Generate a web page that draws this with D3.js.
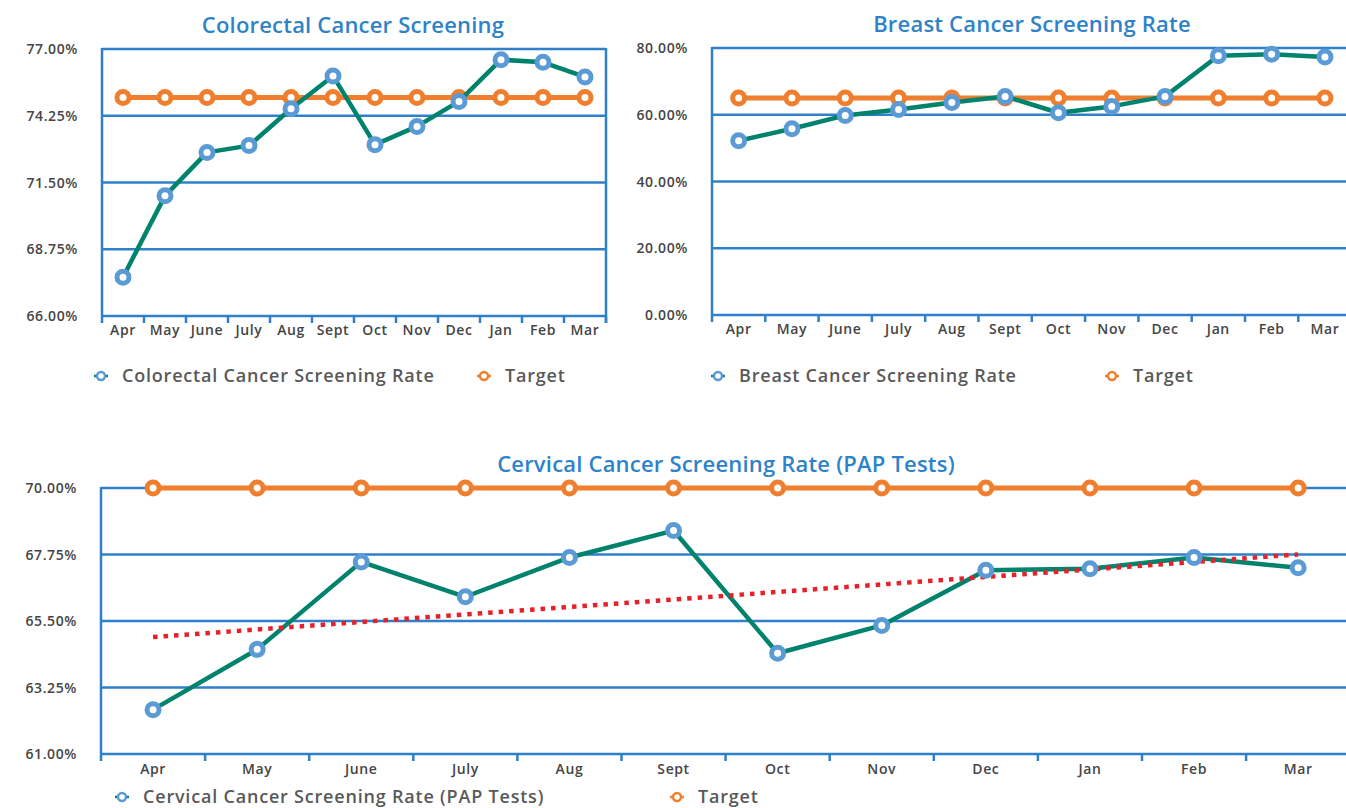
<!DOCTYPE html>
<html>
<head>
<meta charset="utf-8">
<script src="https://cdn.jsdelivr.net/npm/d3@7"></script>
<style>
  body { margin: 0; background: #fff; }
  svg { display: block; font-family: "Open Sans", sans-serif; }
  .tick-label { fill: #454545; font-size: 14px; font-weight: 600; letter-spacing: 0.6px; }
  .chart-title { fill: #2e83c8; font-size: 22px; font-weight: 600; letter-spacing: 0.2px; }
  .legend-text { fill: #595959; font-size: 18px; font-weight: 600; letter-spacing: 0.8px; }
</style>
</head>
<body>
<div id="chart"></div>
<script>
const months = ["Apr", "May", "June", "July", "Aug", "Sept", "Oct", "Nov", "Dec", "Jan", "Feb", "Mar"];

const colorectalRate = [67.60, 70.95, 72.74, 73.02, 74.54, 75.89, 73.06, 73.81, 74.84, 76.56, 76.45, 75.85];
const colorectalTarget = [75, 75, 75, 75, 75, 75, 75, 75, 75, 75, 75, 75];
const colorectalTicks = [66, 68.75, 71.5, 74.25, 77];

const breastRate = [52.2, 55.8, 59.8, 61.6, 63.7, 65.5, 60.6, 62.5, 65.5, 77.7, 78.1, 77.3];
const breastTarget = [65, 65, 65, 65, 65, 65, 65, 65, 65, 65, 65, 65];
const breastTicks = [0, 20, 40, 60, 80];

const cervicalRate = [62.50, 64.54, 67.50, 66.32, 67.65, 68.56, 64.41, 65.35, 67.22, 67.27, 67.65, 67.30];
const cervicalTarget = [70, 70, 70, 70, 70, 70, 70, 70, 70, 70, 70, 70];
const cervicalTicks = [61, 63.25, 65.5, 67.75, 70];

const colors = {
    grid: "#2f80c8",
    rate: "#00836c",
    marker: "#5b9bd5",
    target: "#ef7f2f",
    trend: "#e8202a"
};

const svg = d3.select("#chart").append("svg")
    .attr("width", 1346)
    .attr("height", 808);

drawChart({
    left: 102, top: 49, bandWidth: 42, height: 267,
    ticks: colorectalTicks, rate: colorectalRate, target: colorectalTarget,
    title: "Colorectal Cancer Screening", titleX: 353, titleY: 33,
    rightBorder: true,
    legendY: 376, legendRateX: 101, legendTargetX: 484,
    rateName: "Colorectal Cancer Screening Rate"
});

drawChart({
    left: 712, top: 48, bandWidth: 53.3, height: 267,
    ticks: breastTicks, rate: breastRate, target: breastTarget,
    title: "Breast Cancer Screening Rate", titleX: 1032, titleY: 32,
    legendY: 376, legendRateX: 718, legendTargetX: 1112,
    rateName: "Breast Cancer Screening Rate"
});

drawChart({
    left: 101, top: 488, bandWidth: 104.1, height: 266,
    ticks: cervicalTicks, rate: cervicalRate, target: cervicalTarget,
    title: "Cervical Cancer Screening Rate (PAP Tests)", titleX: 726, titleY: 472,
    trend: true, tickSpacing: 20,
    legendY: 797, legendRateX: 122, legendTargetX: 677,
    rateName: "Cervical Cancer Screening Rate (PAP Tests)"
});

function drawChart(cfg){
    const g = svg.append("g");
    const width = cfg.bandWidth * months.length;

    const x = d3.scaleBand()
        .domain(months)
        .range([cfg.left, cfg.left + width]);

    const y = d3.scaleLinear()
        .domain([d3.min(cfg.ticks), d3.max(cfg.ticks)])
        .range([cfg.top + cfg.height, cfg.top]);

    // horizontal gridlines
    g.append("g").selectAll("line")
        .data(cfg.ticks)
        .enter().append("line")
            .attr("x1", cfg.left)
            .attr("x2", cfg.left + width)
            .attr("y1", d => y(d))
            .attr("y2", d => y(d))
            .attr("stroke", colors.grid)
            .attr("stroke-width", 2.5);

    // y tick labels
    g.append("g").selectAll("text")
        .data(cfg.ticks)
        .enter().append("text")
            .classed("tick-label", true)
            .attr("x", cfg.left - 24)
            .attr("y", d => y(d) + 5)
            .attr("text-anchor", "end")
            .text(d => d.toFixed(2) + "%");

    // left axis and band ticks
    const bottom = y(d3.min(cfg.ticks));
    g.append("line")
        .attr("x1", cfg.left).attr("x2", cfg.left)
        .attr("y1", cfg.top - 1).attr("y2", bottom + 7)
        .attr("stroke", colors.grid).attr("stroke-width", 2.5);

    const boundaries = months.map(m => x(m) + x.bandwidth());
    g.append("g").selectAll("line")
        .data(boundaries)
        .enter().append("line")
            .attr("x1", d => d).attr("x2", d => d)
            .attr("y1", bottom).attr("y2", bottom + 7)
            .attr("stroke", colors.grid).attr("stroke-width", 2.5);

    if(cfg.rightBorder){
        g.append("line")
            .attr("x1", cfg.left + width).attr("x2", cfg.left + width)
            .attr("y1", cfg.top - 1).attr("y2", bottom + 7)
            .attr("stroke", colors.grid).attr("stroke-width", 2.5);
    }

    // x labels
    g.append("g").selectAll("text")
        .data(months)
        .enter().append("text")
            .classed("tick-label", true)
            .attr("x", d => x(d) + x.bandwidth() / 2)
            .attr("y", bottom + (cfg.tickSpacing || 19))
            .attr("text-anchor", "middle")
            .text(d => d);

    const cx = m => x(m) + x.bandwidth() / 2;
    const line = d3.line()
        .x((d, i) => cx(months[i]))
        .y(d => y(d));

    // target series
    g.append("path")
        .datum(cfg.target)
        .attr("d", line)
        .attr("fill", "none")
        .attr("stroke", colors.target)
        .attr("stroke-width", 5);

    g.append("g").selectAll("circle")
        .data(cfg.target)
        .enter().append("circle")
            .attr("cx", (d, i) => cx(months[i]))
            .attr("cy", d => y(d))
            .attr("r", 6)
            .attr("fill", "#fff")
            .attr("stroke", colors.target)
            .attr("stroke-width", 5);

    // rate series
    g.append("path")
        .datum(cfg.rate)
        .attr("d", line)
        .attr("fill", "none")
        .attr("stroke", colors.rate)
        .attr("stroke-width", 4.5)
        .attr("stroke-linejoin", "round");

    // linear trendline
    if(cfg.trend){
        const n = cfg.rate.length;
        const xMean = (n - 1) / 2;
        const yMean = d3.mean(cfg.rate);
        const sxy = d3.sum(cfg.rate, (v, i) => (i - xMean) * (v - yMean));
        const sxx = d3.sum(cfg.rate, (v, i) => (i - xMean) * (i - xMean));
        const slope = sxy / sxx;
        const intercept = yMean - slope * xMean;
        const trendData = [0, n - 1].map(i => ({ i, v: intercept + slope * i }));

        g.append("path")
            .datum(trendData)
            .attr("d", d3.line().x(d => cx(months[d.i])).y(d => y(d.v)))
            .attr("fill", "none")
            .attr("stroke", colors.trend)
            .attr("stroke-width", 4.5)
            .attr("stroke-dasharray", "4.5,6");
    }

    g.append("g").selectAll("circle")
        .data(cfg.rate)
        .enter().append("circle")
            .attr("cx", (d, i) => cx(months[i]))
            .attr("cy", d => y(d))
            .attr("r", 6)
            .attr("fill", "#fff")
            .attr("stroke", colors.marker)
            .attr("stroke-width", 5);

    // title
    g.append("text")
        .classed("chart-title", true)
        .attr("x", cfg.titleX)
        .attr("y", cfg.titleY)
        .attr("text-anchor", "middle")
        .text(cfg.title);

    // legend
    const legend = g.append("g");
    const items = [
        { x: cfg.legendRateX, name: cfg.rateName, stroke: colors.marker, lineColor: colors.rate },
        { x: cfg.legendTargetX, name: "Target", stroke: colors.target, lineColor: colors.target }
    ];
    items.forEach(item => {
        legend.append("line")
            .attr("x1", item.x - 7).attr("x2", item.x + 7)
            .attr("y1", cfg.legendY).attr("y2", cfg.legendY)
            .attr("stroke", item.lineColor).attr("stroke-width", 2.5);
        legend.append("circle")
            .attr("cx", item.x).attr("cy", cfg.legendY)
            .attr("r", 4)
            .attr("fill", "#fff")
            .attr("stroke", item.stroke)
            .attr("stroke-width", 2.5);
        legend.append("text")
            .classed("legend-text", true)
            .attr("x", item.x + 21)
            .attr("y", cfg.legendY + 6)
            .text(item.name);
    });
}
</script>
</body>
</html>
